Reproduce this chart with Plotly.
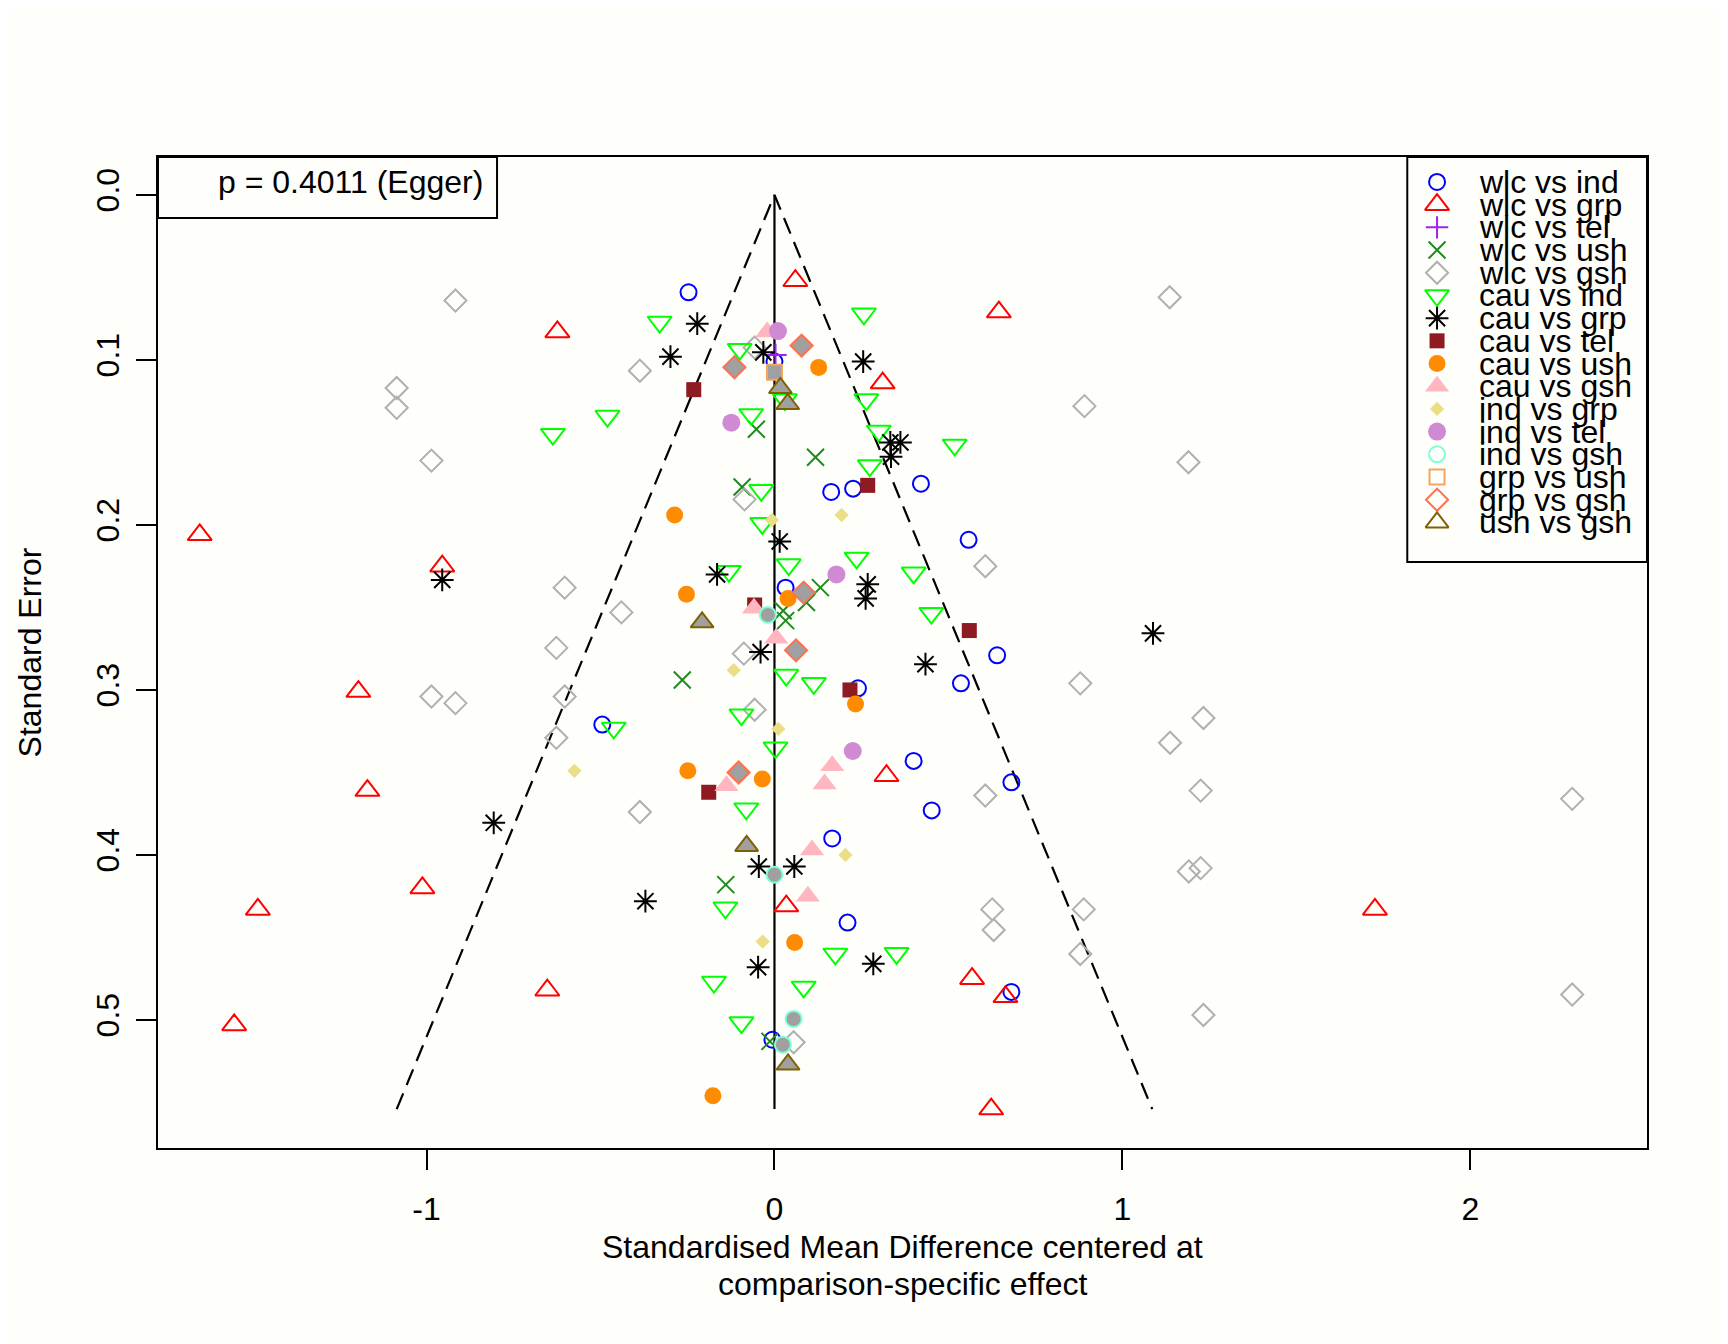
import plotly.graph_objects as go

# comparison-adjusted effects and their standard errors
wlc_ind_x = [-0.247, 0.000, 0.421, 0.226, 0.163, 0.558, 0.032, 0.640, 0.240, 0.536,
             -0.495, 0.400, 0.681, 0.452, 0.166, 0.210, 0.681, -0.006]
wlc_ind_se = [0.059, 0.101, 0.175, 0.178, 0.180, 0.209, 0.238, 0.279, 0.299, 0.296,
              0.321, 0.343, 0.356, 0.373, 0.390, 0.441, 0.483, 0.512]

wlc_grp_x = [0.060, 0.645, -0.624, 0.311, -1.652, -0.955, -1.196, -1.170, 0.322, -1.012,
             -1.485, 0.034, 1.726, -0.653, 0.568, 0.664, -1.553, 0.623]
wlc_grp_se = [0.052, 0.071, 0.083, 0.114, 0.206, 0.225, 0.301, 0.361, 0.352, 0.420,
              0.433, 0.431, 0.433, 0.482, 0.475, 0.486, 0.503, 0.554]

wlc_tel_x = [0.003]
wlc_tel_se = [0.097]

wlc_ush_x = [-0.052, 0.118, -0.093, 0.132, 0.092, 0.025, 0.032, -0.265, -0.140, -0.013]
wlc_ush_se = [0.142, 0.159, 0.177, 0.238, 0.247, 0.252, 0.258, 0.294, 0.418, 0.513]

wlc_gsh_x = [-0.917, 1.136, -0.387, -1.086, -1.086, 0.891, -0.986, 1.190, -0.086, -0.057,
             0.606, -0.603, -0.440, -0.627, -0.088, 0.879, -0.603, -0.986, -0.917, -0.057,
             1.233, -0.627, 1.137, 0.606, 1.225, 2.293, -0.387, 1.191, 1.225, 0.626,
             0.889, 0.630, 0.879, 2.293, 1.233, 0.055]
wlc_gsh_se = [0.064, 0.062, 0.1065, 0.117, 0.129, 0.128, 0.161, 0.162, 0.1845, 0.0925,
              0.225, 0.238, 0.253, 0.2745, 0.278, 0.296, 0.304, 0.304, 0.308, 0.312,
              0.317, 0.329, 0.332, 0.364, 0.361, 0.366, 0.374, 0.410, 0.408, 0.433,
              0.433, 0.4455, 0.460, 0.4846, 0.497, 0.5135]

cau_ind_x = [0.257, -0.330, -0.100, 0.030, 0.264, -0.480, -0.067, -0.637, 0.300, 0.518,
             0.274, -0.038, -0.035, 0.236, -0.131, 0.400, 0.041, 0.451, 0.034, 0.113,
             -0.462, -0.095, 0.003, -0.081, -0.141, 0.351, 0.175, -0.174, 0.084, -0.095]
cau_ind_se = [0.072, 0.077, 0.0935, 0.124, 0.124, 0.134, 0.133, 0.145, 0.143, 0.1515,
              0.164, 0.179, 0.199, 0.220, 0.228, 0.229, 0.224, 0.2535, 0.291, 0.296,
              0.323, 0.315, 0.335, 0.372, 0.432, 0.4596, 0.460, 0.477, 0.480, 0.5016]

cau_grp_x = [-0.222, -0.299, -0.032, 0.255, 0.333, 0.362, 0.335, 0.015, -0.165, 0.268,
             0.262, -0.955, -0.040, 0.434, 1.088, -0.807, -0.045, 0.057, -0.371, -0.047,
             0.284]
cau_grp_se = [0.078, 0.098, 0.0954, 0.101, 0.150, 0.150, 0.1586, 0.210, 0.230, 0.236,
              0.2445, 0.2333, 0.277, 0.2844, 0.2657, 0.3805, 0.407, 0.407, 0.428, 0.468,
              0.466]

cau_tel_x = [-0.232, 0.268, -0.057, 0.560, 0.217, -0.189]
cau_tel_se = [0.118, 0.176, 0.2485, 0.264, 0.300, 0.362]

cau_ush_x = [0.127, -0.287, -0.253, 0.039, 0.233, -0.249, -0.035, 0.058, -0.177]
cau_ush_se = [0.1045, 0.194, 0.242, 0.2445, 0.3085, 0.349, 0.354, 0.453, 0.546]

cau_gsh_x = [-0.021, -0.059, 0.005, 0.166, 0.144, -0.138, 0.108, 0.096]
cau_gsh_se = [0.083, 0.2505, 0.2687, 0.346, 0.357, 0.358, 0.397, 0.425]

ind_grp_x = [0.193, -0.007, -0.117, 0.011, -0.575, 0.204, -0.034]
ind_grp_se = [0.194, 0.197, 0.288, 0.3236, 0.349, 0.400, 0.4525]

ind_tel_x = [0.010, -0.124, 0.178, 0.225]
ind_tel_se = [0.0825, 0.138, 0.230, 0.337]

ind_gsh_x = [-0.019, 0.000, 0.055, 0.024]
ind_gsh_se = [0.2545, 0.412, 0.4994, 0.515]

grp_ush_x = [0.000]
grp_ush_se = [0.1075]

grp_gsh_x = [0.078, -0.115, 0.084, 0.062, -0.103]
grp_gsh_se = [0.0913, 0.1044, 0.241, 0.276, 0.350]

ush_gsh_x = [0.017, 0.038, -0.208, -0.080, 0.039]
ush_gsh_se = [0.117, 0.1267, 0.259, 0.3945, 0.527]

x_ticks = [-1, 0, 1, 2]
y_ticks = [0.0, 0.1, 0.2, 0.3, 0.4, 0.5]
egger_text = "p = 0.4011 (Egger)"

FONT = "Liberation Sans, Arial, Helvetica, sans-serif"
BG = "#fefefa"
FILL = "#a0a0a0"

# label, x, se, symbol, colour, size, fill (None = plain open / solid symbol)
comparisons = [
    ("wlc vs ind", wlc_ind_x, wlc_ind_se, "circle-open", "#0000ff", 16, None),
    ("wlc vs grp", wlc_grp_x, wlc_grp_se, "triangle-up-open", "#ff0000", 21, None),
    ("wlc vs tel", wlc_tel_x, wlc_tel_se, "cross-thin-open", "#a020f0", 16, None),
    ("wlc vs ush", wlc_ush_x, wlc_ush_se, "x-thin-open", "#1f8a1f", 17, None),
    ("wlc vs gsh", wlc_gsh_x, wlc_gsh_se, "diamond-open", "#b0b0b0", 17, None),
    ("cau vs ind", cau_ind_x, cau_ind_se, "triangle-down-open", "#00ff00", 21, None),
    ("cau vs grp", cau_grp_x, cau_grp_se, "asterisk-open", "#000000", 19, None),
    ("cau vs tel", cau_tel_x, cau_tel_se, "square", "#8e1a22", 15, None),
    ("cau vs ush", cau_ush_x, cau_ush_se, "circle", "#ff8c00", 17, None),
    ("cau vs gsh", cau_gsh_x, cau_gsh_se, "triangle-up", "#ffb6c1", 21, None),
    ("ind vs grp", ind_grp_x, ind_grp_se, "diamond", "#eadf87", 11, None),
    ("ind vs tel", ind_tel_x, ind_tel_se, "circle", "#d08ad4", 18, None),
    ("ind vs gsh", ind_gsh_x, ind_gsh_se, "circle", "#7fffd4", 16, FILL),
    ("grp vs ush", grp_ush_x, grp_ush_se, "square", "#f4a460", 15, FILL),
    ("grp vs gsh", grp_gsh_x, grp_gsh_se, "diamond", "#ff7050", 17, FILL),
    ("ush vs gsh", ush_gsh_x, ush_gsh_se, "triangle-up", "#7f6000", 20, FILL),
]


def marker_style(symbol, colour, size, fill):
    if fill is not None:
        return dict(symbol=symbol, size=size, color=fill, line=dict(color=colour, width=2))
    if symbol.endswith("-open"):
        return dict(symbol=symbol, size=size, color=colour, line=dict(color=colour, width=2))
    return dict(symbol=symbol, size=size, color=colour, line=dict(width=0))


fig = go.Figure()

# funnel: pseudo 95% limits down to the largest standard error
se_max = max(max(c[2]) for c in comparisons)
fig.add_trace(go.Scatter(
    x=[-1.96 * se_max, 0, 1.96 * se_max], y=[se_max, 0, se_max],
    mode="lines", line=dict(color="black", width=2.2, dash="17px,9px"),
    showlegend=False, hoverinfo="skip",
))
fig.add_trace(go.Scatter(
    x=[0, 0], y=[0, se_max], mode="lines",
    line=dict(color="black", width=2.2), showlegend=False, hoverinfo="skip",
))

for label, xs, ses, symbol, colour, size, fill in comparisons:
    fig.add_trace(go.Scatter(
        x=xs, y=ses, mode="markers", name=label,
        marker=marker_style(symbol, colour, size, fill), showlegend=False,
    ))

# hand-drawn legend (rows overlap like the original R legend)
leg_x_marker = 0.859
leg_x_text = 0.886
leg_top = 1 - 0.0252
leg_step = 0.0229
for i, (label, xs, ses, symbol, colour, size, fill) in enumerate(comparisons):
    yy = leg_top - i * leg_step
    sym = symbol if symbol.endswith("-open") or fill is None else symbol + "-open"
    fig.add_trace(go.Scatter(
        x=[leg_x_marker], y=[yy], xaxis="x2", yaxis="y2", mode="markers",
        marker=marker_style(sym, colour, size, None), showlegend=False, hoverinfo="skip",
    ))
    fig.add_annotation(
        x=leg_x_text, y=yy, xref="paper", yref="paper", text=label, showarrow=False,
        xanchor="left", yanchor="middle", font=dict(size=32, color="black", family=FONT),
    )

fig.add_shape(type="rect", xref="paper", yref="paper", x0=0.839, x1=1.0, y0=0.5913, y1=1.0,
              line=dict(color="black", width=2), fillcolor="rgba(0,0,0,0)")
fig.add_shape(type="rect", xref="paper", yref="paper", x0=0.0, x1=0.2277, y0=0.9384, y1=1.0,
              line=dict(color="black", width=2), fillcolor="rgba(0,0,0,0)")
fig.add_annotation(
    x=0.039, y=0.9748, xref="paper", yref="paper", text=egger_text, showarrow=False,
    xanchor="left", yanchor="middle", font=dict(size=32, color="black", family=FONT),
)

# axis titles
fig.add_annotation(x=0.5, y=-0.0999, xref="paper", yref="paper", showarrow=False,
                   text="Standardised Mean Difference centered at", yanchor="middle",
                   font=dict(size=32, color="black", family=FONT))
fig.add_annotation(x=0.5, y=-0.1373, xref="paper", yref="paper", showarrow=False,
                   text="comparison-specific effect", yanchor="middle",
                   font=dict(size=32, color="black", family=FONT))
fig.add_annotation(x=-0.086, y=0.5, xref="paper", yref="paper", showarrow=False,
                   text="Standard Error", textangle=-90, xanchor="center", yanchor="middle",
                   font=dict(size=32, color="black", family=FONT))

# the page body adds an 8px offset, so the figure is 8px smaller each way
fig.update_layout(
    width=1720, height=1336,
    margin=dict(l=150, r=81, t=149, b=196),
    paper_bgcolor=BG, plot_bgcolor=BG,
    font=dict(family=FONT, size=32, color="black"),
    showlegend=False,
    xaxis=dict(
        range=[-1.772, 2.508], tickvals=x_ticks, ticktext=[str(v) for v in x_ticks],
        ticks="outside", ticklen=20, tickwidth=2,
        tickcolor="black", showline=True, mirror=True, linecolor="black", linewidth=2,
        showgrid=False, zeroline=False, ticklabelstandoff=12,
        tickfont=dict(size=32, family=FONT),
    ),
    yaxis=dict(
        range=[0.5776, -0.023], tickvals=y_ticks, tickformat=".1f", ticks="outside",
        ticklen=20, tickwidth=2, tickcolor="black", showline=True, mirror=True,
        linecolor="black", linewidth=2, showgrid=False, zeroline=False, tickangle=-90,
        ticklabelstandoff=4, tickfont=dict(size=32, family=FONT),
    ),
    xaxis2=dict(overlaying="x", range=[0, 1], visible=False, anchor="y2"),
    yaxis2=dict(overlaying="y", range=[0, 1], visible=False, anchor="x2"),
)

fig.write_html("out.html")
